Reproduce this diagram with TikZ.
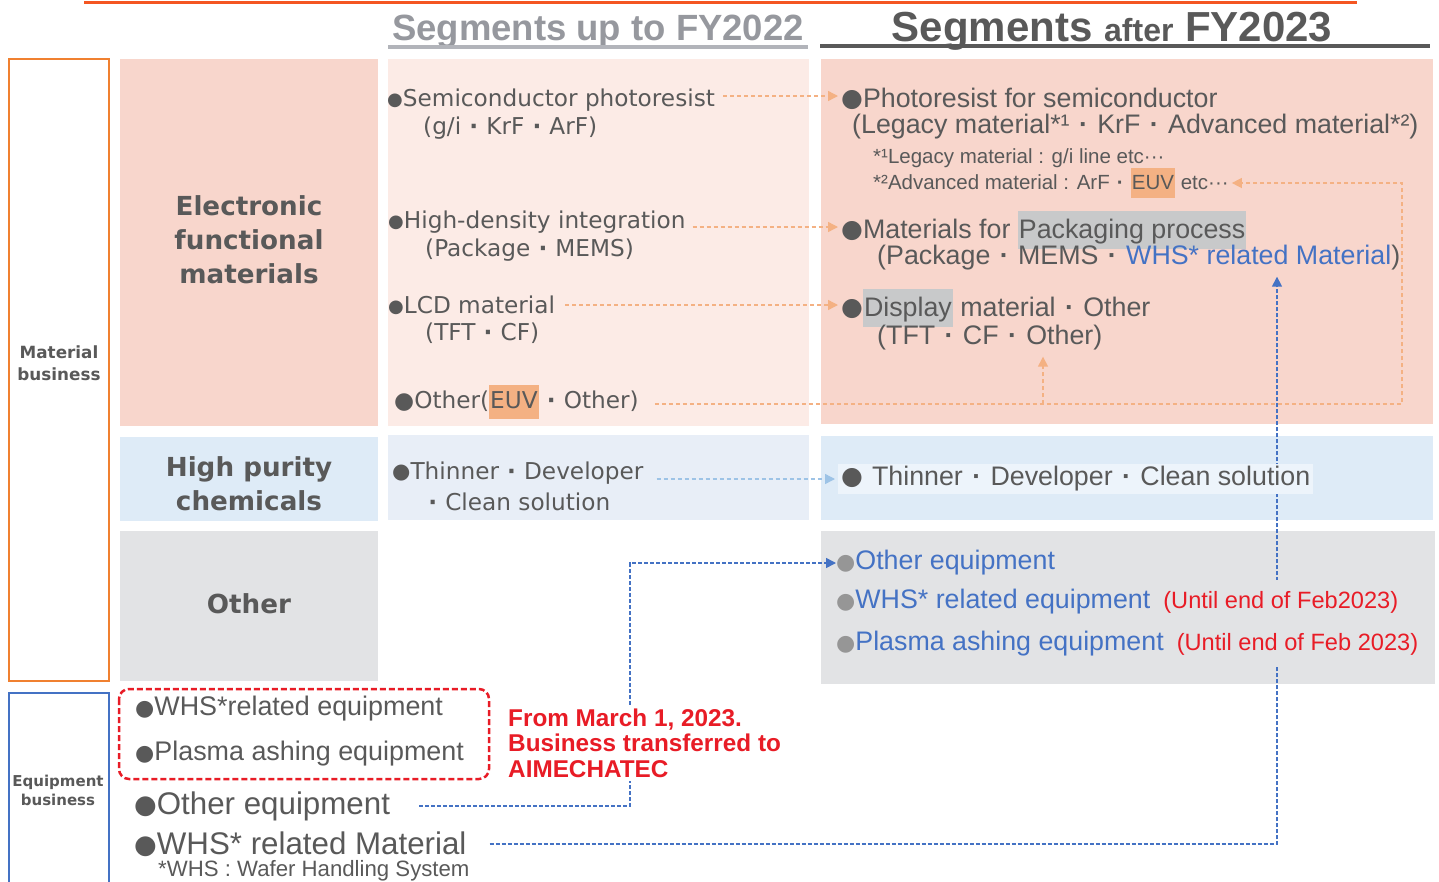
\documentclass[tikz,border=0pt]{standalone}
\usepackage{fontspec}
\setmainfont{Liberation Sans}
\newfontfamily\vfont{DejaVu Sans}
\usetikzlibrary{arrows.meta}
\usetikzlibrary{positioning}

\definecolor{txtgray}{RGB}{89,89,89}
\definecolor{bulgray}{RGB}{150,150,150}
\definecolor{salmon}{RGB}{248,214,204}
\definecolor{pinklt}{RGB}{252,235,230}
\definecolor{bluelt}{RGB}{222,235,247}
\definecolor{bluemid}{RGB}{232,238,247}
\definecolor{graybox}{RGB}{226,227,229}
\definecolor{hlorange}{RGB}{244,177,131}
\definecolor{hlgray}{RGB}{200,201,202}
\definecolor{eqblue}{RGB}{68,114,196}
\definecolor{alertred}{RGB}{232,28,38}
\definecolor{frameorange}{RGB}{240,128,48}
\definecolor{topline}{RGB}{244,86,34}
\definecolor{arrowblue}{RGB}{157,195,230}
\definecolor{oldhead}{RGB}{150,152,158}
\definecolor{oldline}{RGB}{178,180,186}
\definecolor{newhead}{RGB}{89,89,89}

\newcommand\md{\hspace{0.35em}{\bfseries·}\hspace{0.35em}}
\newcommand\bul[1]{{\fontsize{#1}{#1}\vfont\raisebox{0.04em}{●}}}
\newcommand\hlo[1]{{\setlength{\fboxsep}{1pt}\colorbox{hlorange}{\vrule height 1em depth 0.4em width 0pt#1}}}
\newcommand\hlg[1]{{\setlength{\fboxsep}{1pt}\colorbox{hlgray}{\vrule height 1em depth 0.38em width 0pt#1}}}

\pgfdeclarelayer{boxes}
\pgfdeclarelayer{links}
\pgfsetlayers{boxes,links,main}

\tikzset{txt/.style = {anchor=west, inner sep=0pt, text=txtgray},
         midtxt/.style = {txt, font=\vfont\fontsize{23.2}{27}\selectfont},
         newtxt/.style = {txt, font=\fontsize{26.8}{32}\selectfont},
         notetxt/.style = {txt, font=\fontsize{20.5}{24}\selectfont},
         eqtxt/.style = {txt, font=\fontsize{26.9}{32}\selectfont},
         bigtxt/.style = {txt, font=\fontsize{31.3}{36}\selectfont},
         seglabel/.style = {align=center, inner sep=0pt, text=txtgray,
                            font=\vfont\bfseries\fontsize{26.2}{34}\selectfont},
         bizlabel/.style = {align=center, inner sep=0pt, text=txtgray},
         oarr/.style = {draw=hlorange, line width=1.4pt, dash pattern=on 4pt off 3pt,
                        -{Triangle[length=10pt,width=10pt]}},
         barr/.style = {oarr, draw=arrowblue},
         darr/.style = {draw=eqblue, line width=1.5pt, dash pattern=on 4pt off 2pt,
                        -{Triangle[length=10pt,width=10pt]}}}

\begin{document}
\begin{tikzpicture}[x=1pt, y=-1pt]
  \useasboundingbox (0,0) rectangle (1439,881);

  % headers
  \draw [topline, line width=3pt] (84,2) -- (1357,2);
  \node [anchor=base, text=oldhead, font=\bfseries\fontsize{36.5}{40}\selectfont] (hdold) at (598,40) {Segments up to FY2022};
  \draw [oldline, line width=4pt] (388,47) -- (808,47);
  \node [anchor=base, text=newhead, font=\bfseries\fontsize{42}{46}\selectfont] (hdnew) at (1112,41)
        {Segments {\fontsize{32}{36}\selectfont after} FY2023};
  \draw [newhead, line width=4pt] (820,46) -- (1430,46);

  \begin{pgfonlayer}{boxes}
    \fill [salmon] (120,59) rectangle (378,426);
    \fill [bluelt] (120,437) rectangle (378,521);
    \fill [graybox] (120,531) rectangle (378,681);
    \fill [pinklt] (388,59) rectangle (809,426);
    \fill [bluemid] (388,435) rectangle (809,520);
    \fill [salmon] (821,59) rectangle (1433,424);
    \fill [bluelt] (821,436) rectangle (1433,520);
    \fill [graybox] (821,531) rectangle (1435,684);
  \end{pgfonlayer}

  \draw [frameorange, line width=2.5pt] (9,59) rectangle (109,681);
  \draw [eqblue, line width=2.5pt] (9,693) rectangle (109,900);
  \node [bizlabel, font=\vfont\bfseries\fontsize{16.8}{22}\selectfont] (matbiz) at (59,363) {Material\\business};
  \node [bizlabel, font=\vfont\bfseries\fontsize{15}{19}\selectfont] (eqbiz) at (58,790) {Equipment\\business};

  \node [seglabel] (efm) at (249,240) {Electronic\\functional\\materials};
  \node [seglabel] (hpc) at (249,484) {High purity\\chemicals};
  \node [seglabel] (oth) at (249,604) {Other};

  % up to FY2022
  \node [midtxt] (ms1a) at (387,100) {\bul{18}Semiconductor photoresist};
  \node [midtxt] (ms1b) at (423,128) {(g/i\md KrF\md ArF)};
  \node [midtxt] (ms2a) at (388,222) {\bul{18}High-density integration};
  \node [midtxt] (ms2b) at (425,250) {(Package\md MEMS)};
  \node [midtxt] (ms3a) at (388,305) {\bul{18}LCD material};
  \node [midtxt] (ms3b) at (425,333) {(TFT\md CF)};
  \node [midtxt] (ms4) at (394,402) {\bul{23}Other(\hlo{EUV}\md Other)};
  \node [midtxt] (mc1a) at (392,473) {\bul{21}Thinner\md Developer};
  \node [midtxt] (mc1b) at (420,502) {\md Clean solution};

  % after FY2023
  \node [newtxt] (ns1a) at (841,99) {\bul{25}Photoresist for semiconductor};
  \node [newtxt] (ns1b) at (852,127) {(Legacy material*¹\md KrF\md Advanced material*²)};
  \node [notetxt] (ns1c) at (873,158) {*¹Legacy material : g/i line etc···};
  \node [notetxt] (ns1d) at (873,183) {*²Advanced material : ArF\md\hlo{EUV} etc···};
  \node [newtxt] (ns2a) at (841,230) {\bul{25}Materials for \hlg{Packaging process}};
  \node [newtxt] (ns2b) at (877,258) {(Package\md MEMS\md\textcolor{eqblue}{WHS* related Material})};
  \node [newtxt] (ns3a) at (841,308) {\bul{25}\hlg{Display} material\md Other};
  \node [newtxt] (ns3b) at (877,338) {(TFT\md CF\md Other)};
  \node [newtxt, fill=bluelt!55!white, inner sep=3pt] (nc1) at (838,479) {\bul{25}\hspace{9pt}Thinner\md Developer\md Clean solution};
  \node [newtxt, text=eqblue] (no1) at (836,563) {\textcolor{bulgray}{\bul{22}}Other equipment};
  \node [newtxt, text=eqblue, fill=graybox, minimum height=44pt] (no2) at (836,602)
        {\textcolor{bulgray}{\bul{22}}WHS* related equipment\hspace{13pt}{\fontsize{23.6}{28}\selectfont\textcolor{alertred}{(Until end of Feb2023)}}};
  \node [newtxt, text=eqblue, fill=graybox, minimum height=44pt] (no3) at (836,644)
        {\textcolor{bulgray}{\bul{22}}Plasma ashing equipment\hspace{13pt}{\fontsize{23.6}{28}\selectfont\textcolor{alertred}{(Until end of Feb 2023)}}};

  % equipment business
  \draw [alertred, line width=2.5pt, dash pattern=on 6pt off 3pt, rounded corners=10pt] (119,689) rectangle (489,779);
  \node [eqtxt] (eq1) at (135,709) {\bul{22}WHS*related equipment};
  \node [eqtxt] (eq2) at (135,754) {\bul{22}Plasma ashing equipment};
  \node [txt, text=alertred, align=left, fill=white, inner sep=4pt,
         font=\bfseries\fontsize{24.3}{25.5}\selectfont] (xfer) at (504,743)
        {From March 1, 2023.\\Business transferred to\\AIMECHATEC};
  \node [bigtxt] (eq3) at (134,806) {\bul{26}Other equipment};
  \node [bigtxt] (eq4) at (134,844) {\bul{26}WHS* related Material};
  \node [txt, font=\fontsize{22.2}{26}\selectfont] (eq5) at (158,871) {*WHS : Wafer Handling System};

  \coordinate (oturn) at (1402,405);
  \coordinate (obranch) at (1043,405);
  \coordinate (bturn) at (630,807);
  \coordinate (bup) at (1277,843);

  \begin{pgfonlayer}{links}
    \draw [oarr, shorten >=3pt] ([xshift=8pt, yshift=4pt]ms1a.east) -- ([yshift=4pt]ms1a.east -| ns1a.west);
    \draw [oarr, shorten >=3pt] ([xshift=7pt, yshift=-5pt]ms2a.east) -- ([yshift=-5pt]ms2a.east -| ns2a.west);
    \draw [oarr, shorten >=3pt] ([xshift=10pt]ms3a.east) -- (ms3a.east -| ns3a.west);
    \draw [oarr, shorten >=3pt] ([xshift=16pt, yshift=-2pt]ms4.east) -- ([yshift=-2pt]ms4.east -| oturn) |- (ns1d.east);
    \draw [oarr, shorten >=6pt] ([yshift=-2pt]ms4.east -| obranch) -- (obranch |- ns3b.south);
    \draw [barr, shorten >=3pt] ([xshift=13pt]mc1a.east |- nc1.west) -- (nc1.west);
    \draw [darr] ([xshift=29pt]eq3.east) -- (eq3.east -| bturn) |- (no1.west);
    \draw [darr, shorten >=6pt] ([xshift=23pt]eq4.east) -- (eq4.east -| bup) -- (bup |- ns2b.south);
  \end{pgfonlayer}
\end{tikzpicture}
\end{document}
